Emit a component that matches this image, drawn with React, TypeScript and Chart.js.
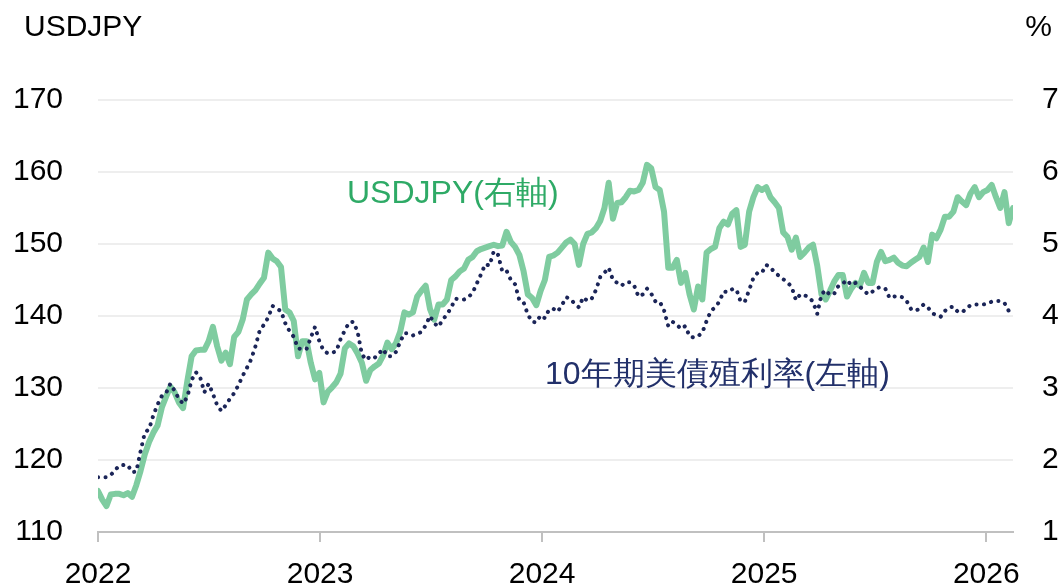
import React, { useEffect, useRef } from "react";
import { Chart, registerables } from "chart.js";

Chart.register(...registerables);

// Weekly observations starting first week of Jan 2022
const startYear = 2022;
const weeksPerYear = 365.25 / 7;

const usdjpy = [
  115.7, 114.5, 113.6, 115.2, 115.3, 115.3, 115.1, 115.4, 114.9, 116.5,
  118.5, 120.8, 122.5, 123.8, 124.8, 127.3, 128.8, 130.2, 129.4, 128.0,
  127.2, 131.0, 134.4, 135.2, 135.3, 135.3, 136.5, 138.5, 135.8, 133.8,
  134.9, 133.3, 137.1, 137.8, 139.5, 142.3, 143.0, 143.6, 144.5, 145.3,
  148.8, 148.0, 147.6, 146.8, 140.9, 140.5, 139.3, 134.4, 136.5, 136.5,
  133.5, 131.2, 132.1, 128.0, 129.5, 130.1, 130.8, 132.0, 135.5, 136.2,
  135.8, 134.8, 133.5, 131.0, 132.5, 133.0, 133.4, 134.5, 136.3, 135.4,
  136.2, 137.8, 140.5, 140.2, 140.5, 142.7, 143.5, 144.2, 141.0, 139.5,
  141.6, 141.6, 142.3, 145.0, 145.5, 146.2, 146.6, 147.8, 148.2, 149.0,
  149.3, 149.5, 149.7, 149.9, 149.7, 149.8, 151.7, 150.3, 149.6, 148.5,
  146.2, 143.0, 142.5, 141.5, 143.5, 145.0, 148.2, 148.4, 148.8, 149.5,
  150.2, 150.6, 150.0, 147.1, 150.0, 151.4, 151.6, 152.2, 153.2, 155.0,
  158.5, 153.5, 155.7, 155.8, 156.5, 157.4, 157.3, 157.5, 158.5, 161.0,
  160.5, 157.9, 157.5, 154.5, 146.7, 146.7, 147.8, 144.6, 146.0, 143.0,
  140.9, 144.1, 142.3, 148.8, 149.3, 149.6, 152.2, 153.1, 152.7, 154.2,
  154.7, 149.6, 149.9, 154.5, 156.5, 157.9, 157.5, 157.9, 156.5, 155.8,
  155.0, 151.6, 151.0, 149.2, 150.9, 148.2, 148.8, 149.5, 149.9, 147.0,
  143.0, 142.3, 143.5, 144.8, 145.7, 145.7, 142.7, 143.8, 144.6, 144.2,
  146.0, 144.6, 144.6, 147.5, 148.9, 147.6, 147.8, 148.1, 147.4, 147.0,
  146.9, 147.4, 147.8, 148.2, 149.5, 147.5, 151.3, 150.8, 152.0, 153.8,
  153.8, 154.5, 156.5, 155.9, 155.4, 157.0, 157.9, 156.5, 157.2, 157.5,
  158.2, 156.5, 155.0, 157.2, 152.9, 155.0,
];

const ust10y = [
  1.76, 1.76, 1.76, 1.79, 1.86, 1.92, 1.93, 1.93, 1.83, 1.84,
  2.12, 2.38, 2.43, 2.62, 2.77, 2.89, 2.93, 3.06, 2.96, 2.85,
  2.78, 2.88, 3.11, 3.22, 3.15, 2.94, 3.06, 2.92, 2.76, 2.68,
  2.76, 2.85, 2.93, 3.04, 3.17, 3.28, 3.40, 3.58, 3.80, 3.88,
  3.98, 4.14, 4.10, 4.07, 3.90, 3.79, 3.71, 3.55, 3.54, 3.54,
  3.70, 3.85, 3.65, 3.52, 3.48, 3.49, 3.51, 3.68, 3.80, 3.91,
  3.92, 3.78, 3.47, 3.39, 3.44, 3.42, 3.48, 3.54, 3.44, 3.44,
  3.50, 3.64, 3.76, 3.76, 3.73, 3.75, 3.78, 3.87, 4.00, 3.90,
  3.85, 3.95, 4.02, 4.12, 4.24, 4.23, 4.23, 4.26, 4.32, 4.45,
  4.58, 4.72, 4.70, 4.90, 4.85, 4.62, 4.63, 4.50, 4.44, 4.22,
  4.19, 4.02, 3.92, 3.91, 4.01, 3.97, 4.09, 4.10, 4.06, 4.15,
  4.26, 4.24, 4.17, 4.12, 4.26, 4.21, 4.24, 4.36, 4.54, 4.60,
  4.67, 4.50, 4.46, 4.42, 4.47, 4.47, 4.42, 4.27, 4.30, 4.38,
  4.31, 4.20, 4.20, 4.08, 3.86, 3.92, 3.88, 3.82, 3.86, 3.72,
  3.70, 3.72, 3.77, 3.93, 4.07, 4.12, 4.20, 4.34, 4.33, 4.37,
  4.37, 4.20, 4.20, 4.36, 4.53, 4.60, 4.60, 4.71, 4.68, 4.60,
  4.56, 4.51, 4.47, 4.40, 4.22, 4.30, 4.29, 4.26, 4.20, 4.03,
  4.30, 4.36, 4.29, 4.31, 4.42, 4.45, 4.50, 4.43, 4.46, 4.41,
  4.35, 4.30, 4.34, 4.39, 4.40, 4.38, 4.25, 4.27, 4.28, 4.26,
  4.21, 4.10, 4.07, 4.10, 4.16, 4.12, 4.04, 4.01, 3.99, 4.07,
  4.12, 4.13, 4.06, 4.05, 4.10, 4.15, 4.16, 4.16, 4.16, 4.17,
  4.20, 4.21, 4.21, 4.18, 4.07, 4.04,
];

const yearTicks = [2022, 2023, 2024, 2025, 2026];
const leftTitle = "USDJPY";
const rightTitle = "%";
const usdLabel = "USDJPY(右軸)";
const yieldLabel = "10年期美債殖利率(左軸)";

const FONT = '"Liberation Sans", Arial, Helvetica, sans-serif';
const GREEN_LINE = "#7fcca0";
const GREEN_TEXT = "#2eaa66";
const NAVY = "#1b2558";
const NAVY_TEXT = "#22306a";

const textPlugin = {
  id: "extraTexts",
  afterDraw(chart: any) {
    const ctx = chart.ctx;
    ctx.save();
    ctx.textBaseline = "middle";
    ctx.font = `30px ${FONT}`;
    ctx.fillStyle = "#000";
    ctx.textAlign = "left";
    ctx.fillText(leftTitle, 24, 28);
    ctx.textAlign = "right";
    ctx.fillText(rightTitle, 1052, 28);
    ctx.font = `32px ${FONT}`;
    ctx.textAlign = "left";
    ctx.fillStyle = GREEN_TEXT;
    ctx.fillText(usdLabel, 347, 194);
    ctx.fillStyle = NAVY_TEXT;
    ctx.fillText(yieldLabel, 545, 375);
    ctx.restore();
  },
};

export default function App() {
  const ref = useRef<HTMLCanvasElement | null>(null);

  useEffect(() => {
    if (!ref.current) return;
    const toX = (i: number) => startYear + i / weeksPerYear;
    const xMax = toX(usdjpy.length - 1);
    const tickFont = { family: FONT, size: 30 };

    const chart = new Chart(ref.current, {
      type: "line",
      data: {
        datasets: [
          {
            label: yieldLabel,
            data: ust10y.map((v, i) => ({ x: toX(i), y: v })),
            yAxisID: "y1",
            borderColor: NAVY,
            borderWidth: 4,
            borderDash: [0.1, 7.4],
            borderCapStyle: "round",
            pointRadius: 0,
            tension: 0,
            fill: false,
          },
          {
            label: usdLabel,
            data: usdjpy.map((v, i) => ({ x: toX(i), y: v })),
            yAxisID: "y",
            borderColor: GREEN_LINE,
            borderWidth: 6,
            borderJoinStyle: "round",
            borderCapStyle: "round",
            pointRadius: 0,
            tension: 0,
            fill: false,
          },
        ],
      },
      options: {
        animation: false,
        responsive: true,
        maintainAspectRatio: false,
        layout: { padding: { top: 100, left: 0, right: 0, bottom: 0 } },
        plugins: {
          legend: { display: false },
          tooltip: { enabled: false },
        },
        scales: {
          x: {
            type: "linear",
            min: startYear,
            max: xMax,
            afterFit: (s: any) => {
              s.height = 52;
            },
            afterBuildTicks: (s: any) => {
              s.ticks = yearTicks.map((v) => ({ value: v }));
            },
            grid: {
              drawOnChartArea: false,
              drawTicks: true,
              tickLength: 10,
              color: "#c0c0c0",
              lineWidth: 2,
            },
            border: { display: true, color: "#c0c0c0", width: 2 },
            ticks: {
              font: tickFont,
              color: "#000",
              padding: 15,
              maxRotation: 0,
              autoSkip: false,
              includeBounds: false,
              callback: (v: any) => String(v),
            },
          },
          y: {
            position: "left",
            min: 110,
            max: 170,
            afterFit: (s: any) => {
              s.width = 98;
            },
            grid: { color: "#eeeeee", lineWidth: 2, drawTicks: false },
            border: { display: false },
            ticks: {
              stepSize: 10,
              font: tickFont,
              color: "#000",
              padding: 35,
            },
          },
          y1: {
            position: "right",
            min: 1,
            max: 7,
            afterFit: (s: any) => {
              s.width = 45;
            },
            grid: { display: false, drawTicks: false },
            border: { display: false },
            ticks: {
              stepSize: 1,
              font: tickFont,
              color: "#000",
              padding: 29,
            },
          },
        },
      },
      plugins: [textPlugin],
    } as any);

    return () => chart.destroy();
  }, []);

  return (
    <div style={{ position: "fixed", left: 0, top: 0, width: 1058, height: 585, background: "#fff" }}>
      <canvas ref={ref} />
    </div>
  );
}
